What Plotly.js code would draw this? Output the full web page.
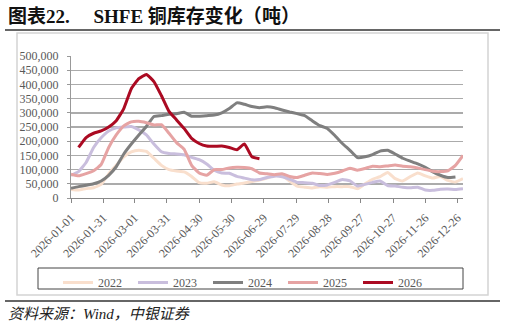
<!DOCTYPE html>
<html>
<head>
<meta charset="utf-8">
<script src="https://cdn.plot.ly/plotly-3.0.1.min.js"></script>
<style>
  html, body { margin: 0; padding: 0; background: #fff; }
  #chart { width: 505px; height: 328px; }
</style>
</head>
<body>
<div id="chart"></div>
<script>
// SHFE copper warehouse stocks (tonnes), weekly, each year laid on a 2026 calendar
const years = ['2022', '2023', '2024', '2025', '2026'];

const stock2022 = [30, 28, 33, 36, 48, 85, 115, 145, 162, 168, 164, 140, 115, 100, 95, 92,
  76, 54, 52, 57, 46, 43, 49, 53, 58, 63, 70, 80, 78, 60, 42, 38, 35, 40, 38, 40, 40, 40,
  33, 50, 66, 75, 90, 68, 60, 75, 88, 78, 70, 76, 62, 56, 68].map(v => v * 1000);

const stock2023 = [80, 93, 125, 178, 212, 236, 247, 250, 252, 240, 222, 190, 163, 157, 155, 152,
  143, 135, 120, 98, 88, 87, 76, 70, 64, 65, 72, 77, 75, 66, 55, 54, 52, 44, 46, 55, 65,
  60, 42, 48, 55, 60, 44, 42, 38, 36, 38, 28, 27, 31, 32, 30, 33].map(v => v * 1000);

const stock2024 = [34, 40, 45, 50, 60, 80, 110, 155, 190, 222, 252, 287, 290, 295, 297, 302,
  288, 288, 290, 292, 300, 315, 335, 330, 322, 318, 321, 318, 310, 303, 297, 290, 272, 255,
  245, 220, 192, 168, 142, 145, 153, 165, 168, 155, 140, 130, 120, 108, 92, 80, 72, 74].map(v => v * 1000);

const stock2025 = [84, 78, 86, 96, 118, 178, 222, 254, 268, 270, 265, 257, 258, 228, 195, 172,
  115, 88, 80, 100, 100, 106, 108, 107, 103, 88, 85, 82, 85, 76, 72, 80, 88, 86, 83, 87, 95,
  105, 98, 104, 112, 110, 113, 116, 112, 110, 106, 100, 94, 93, 96, 115, 150].map(v => v * 1000);

const stock2026 = [178, 213, 228, 236, 250, 272, 315, 385, 420, 435, 410, 360, 305, 275, 245,
  210, 192, 183, 182, 183, 178, 170, 190, 145, 138].map(v => v * 1000);

const tickDates = ['2026-01-01', '2026-01-31', '2026-03-01', '2026-03-31', '2026-04-30',
  '2026-05-30', '2026-06-29', '2026-07-29', '2026-08-28', '2026-09-27', '2026-10-27',
  '2026-11-26', '2026-12-26'];

const colors = ['#f9dfcd', '#c9bedd', '#7f7f7f', '#e6a3a3', '#ab0a22'];

// weekly calendar positions, starting from a given week number of 2026
function weekDates(firstWeek, count) {
  const out = [];
  for (let i = 0; i < count; i++) {
    const d = new Date(Date.UTC(2026, 0, 1 + 7 * (firstWeek + i)));
    out.push(d.toISOString().slice(0, 10));
  }
  return out;
}

const series = [stock2022, stock2023, stock2024, stock2025, stock2026];
const firstWeeks = [0, 0, 0, 0, 1];

const traces = series.map((vals, i) => ({
  type: 'scatter',
  mode: 'lines',
  name: years[i],
  x: weekDates(firstWeeks[i], vals.length),
  y: vals,
  line: { color: colors[i], width: 3, shape: 'spline', smoothing: 0.4 },
  hoverinfo: 'skip'
}));

// page geometry (pixels) and helpers to place things in paper coordinates
const W = 505, H = 328;
const M = { l: 71, r: 42, t: 56, b: 130 };
const PW = W - M.l - M.r, PH = H - M.t - M.b;
const fx = x => (x - M.l) / PW;
const fy = y => (H - M.b - y) / PH;

const serif = '"Liberation Serif", "Times New Roman", serif';
const grey = '#595959';

const layout = {
  width: W, height: H,
  margin: M,
  paper_bgcolor: '#fff',
  plot_bgcolor: '#fff',
  showlegend: true,
  xaxis: {
    type: 'date',
    range: ['2026-01-01', '2026-12-31'],
    tickvals: tickDates,
    ticktext: tickDates,
    tickangle: -45,
    tickfont: { family: serif, size: 12, color: grey },
    ticks: 'outside', ticklen: 4, tickcolor: '#888', tickwidth: 1,
    ticklabelstandoff: 3,
    showline: true, linecolor: '#888', linewidth: 1,
    showgrid: false, zeroline: false, fixedrange: true
  },
  yaxis: {
    range: [0, 500000],
    tickvals: [0, 50000, 100000, 150000, 200000, 250000, 300000, 350000, 400000, 450000, 500000],
    tickformat: ',d',
    tickfont: { family: serif, size: 12, color: grey },
    ticks: 'outside', ticklen: 3, tickcolor: '#999', tickwidth: 1,
    ticklabelstandoff: 6,
    showline: true, linecolor: '#999', linewidth: 1,
    showgrid: true, gridcolor: '#ababab', gridwidth: 1.4,
    zeroline: false, fixedrange: true
  },
  legend: {
    orientation: 'h',
    x: fx(58), xanchor: 'left',
    y: fy(268), yanchor: 'top',
    bgcolor: 'rgba(0,0,0,0)',
    borderwidth: 0,
    font: { family: serif, size: 12, color: grey },
    entrywidth: 30, entrywidthmode: 'pixels',
    traceorder: 'normal'
  },
  shapes: [
    // outer chart frame
    { type: 'rect', xref: 'paper', yref: 'paper', x0: fx(17), x1: fx(488), y0: fy(295), y1: fy(33),
      line: { color: '#d4d4d4', width: 1.5 }, fillcolor: 'rgba(0,0,0,0)', layer: 'below' },
    // legend frame
    { type: 'rect', xref: 'paper', yref: 'paper', x0: fx(38), x1: fx(463), y0: fy(289), y1: fy(268),
      line: { color: '#444', width: 1 }, fillcolor: 'rgba(0,0,0,0)' },
    // rule under the heading
    { type: 'line', xref: 'paper', yref: 'paper', x0: fx(5), x1: fx(500), y0: fy(30), y1: fy(30),
      line: { color: '#333', width: 1.5 } },
    // rule above the source note
    { type: 'line', xref: 'paper', yref: 'paper', x0: fx(5), x1: fx(500), y0: fy(301), y1: fy(301),
      line: { color: '#333', width: 1.5 } }
  ],
  annotations: [
    { xref: 'paper', yref: 'paper', x: fx(6), y: fy(16), xanchor: 'left', yanchor: 'middle',
      showarrow: false, text: '<b>图表22.&nbsp;&nbsp;&nbsp;&nbsp;&nbsp;SHFE 铜库存变化（吨）</b>',
      font: { family: '"Liberation Serif", "Noto Sans CJK SC", serif', size: 19, color: '#111' } },
    { xref: 'paper', yref: 'paper', x: fx(6), y: fy(314), xanchor: 'left', yanchor: 'middle',
      showarrow: false, text: '资料来源：Wind，中银证券',
      font: { family: '"Liberation Serif", "Noto Sans CJK SC", serif', size: 15, color: '#222', style: 'italic' } }
  ]
};

Plotly.newPlot('chart', traces, layout, { displayModeBar: false, staticPlot: true });
</script>
</body>
</html>
